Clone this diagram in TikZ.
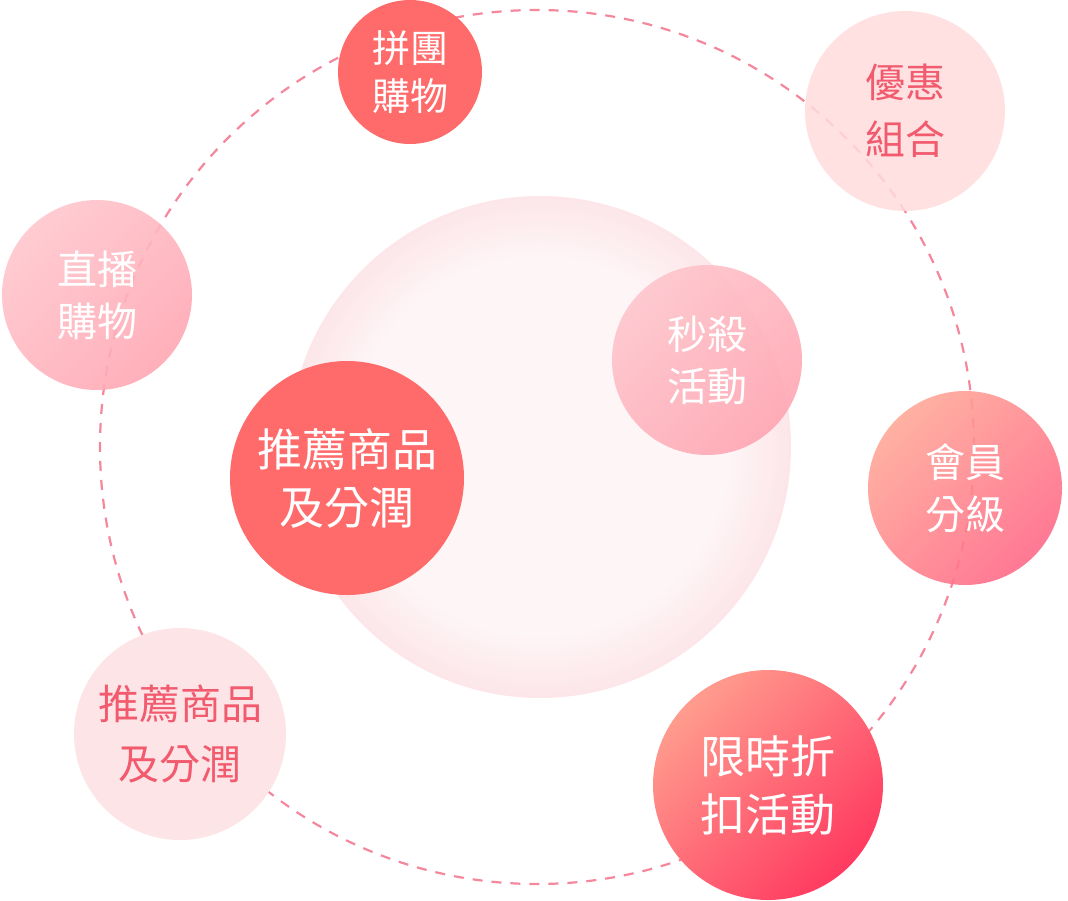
\documentclass[tikz,border=0pt]{standalone}
\usepackage{fontspec}
\newfontfamily\cjk{Noto Sans CJK TC}
\definecolor{ringc}{HTML}{F4879C}
\definecolor{coral}{HTML}{FF6B6B}
\definecolor{pinkA}{HTML}{FFC6CD}
\definecolor{pinkB}{HTML}{FFA7B3}
\definecolor{memA}{HTML}{FFA898}
\definecolor{memB}{HTML}{FF6A88}
\definecolor{limA}{HTML}{FF9C8E}
\definecolor{limB}{HTML}{FF3A60}
\definecolor{paleA}{HTML}{FFDCDD}
\definecolor{paleB}{HTML}{FDE5E7}
\definecolor{darktxt}{HTML}{F25A6E}
\definecolor{glowA}{HTML}{FEF5F6}
\definecolor{glowB}{HTML}{FCE6E9}
\tikzset{
  bubble/.style={circle, inner sep=0pt, align=center, text=white},
  ring/.style={draw=ringc, line width=2.2pt, dash pattern=on 10pt off 9pt},
  txtM/.style={font=\cjk\fontsize{40}{52}\selectfont},
  txtL/.style={font=\cjk\fontsize{45}{58}\selectfont},
}
\begin{document}
\begin{tikzpicture}[x=1pt,y=-1pt]
\useasboundingbox (0,0) rectangle (1068,900);
\coordinate (c) at (537,447);
\coordinate (g) at (540,447);
\draw[ring] (c) circle[radius=437pt];
\foreach \i in {0,...,20}{
  \pgfmathsetmacro{\rr}{251-3*\i}
  \pgfmathsetmacro{\mix}{100-5*\i}
  \fill[glowB!\mix!glowA] (g) circle[radius=\rr pt];
}
\node[bubble, minimum size=144pt, fill=coral, font=\cjk\fontsize{38}{48}\selectfont] (pt) at (410,72) {拼團\\購物};
\node[bubble, minimum size=200pt, fill=paleA, fill opacity=0.85, text opacity=1, text=darktxt, font=\cjk\fontsize{40}{57}\selectfont] (yh) at (905,111) {優惠\\組合};
\node[bubble, minimum size=190pt, shade, top color=pinkA, bottom color=pinkB, shading angle=45, opacity=0.9, text opacity=1, txtM] (zb) at (97,295) {直播\\購物};
\node[bubble, minimum size=190pt, shade, top color=pinkA, bottom color=pinkB, shading angle=45, opacity=0.92, text opacity=1, txtM] (ms) at (707,360) {秒殺\\活動};
\node[bubble, minimum size=234pt, fill=coral, txtL] (tj) at (347,478) {推薦商品\\及分潤};
\node[bubble, minimum size=194pt, shade, top color=memA, bottom color=memB, shading angle=45, opacity=0.9, text opacity=1, txtM] (hy) at (965,488) {會員\\分級};
\node[bubble, minimum size=230pt, shade, top color=limA, bottom color=limB, shading angle=45, txtL] (xs) at (768,785) {限時折\\扣活動};
\node[bubble, minimum size=212pt, fill=paleB, text=darktxt, font=\cjk\fontsize{41}{60}\selectfont] (tj2) at (180,734) {推薦商品\\及分潤};
\end{tikzpicture}
\end{document}
